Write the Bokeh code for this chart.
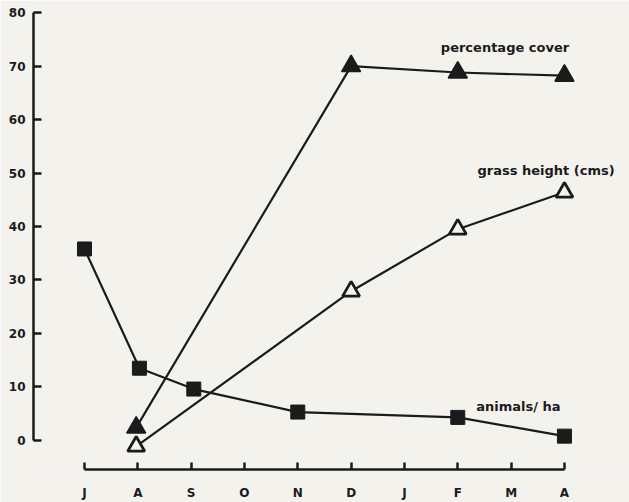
from bokeh.plotting import figure
from bokeh.models import Range1d, FixedTicker
from bokeh.core.properties import value
from bokeh.embed import file_html
from bokeh.resources import INLINE

# ---- data ----
month_labels = ["J", "A", "S", "O", "N", "D", "J", "F", "M", "A"]
month_pos = list(range(10))

animals_x = [0, 1.03, 2.05, 4, 7, 9]
animals = [35.8, 13.5, 9.6, 5.3, 4.3, 0.8]

cover_x = [0.97, 5, 7, 9]
cover = [2.4, 70.0, 68.8, 68.2]

grass_x = [0.97, 5, 7, 9]
grass = [-1.1, 27.9, 39.5, 46.4]

y_ticks = [0, 10, 20, 30, 40, 50, 60, 70, 80]

label_texts = ["percentage cover", "grass height (cms)", "animals/ ha"]

BG = "#f3f2ed"
INK = "#1b1b1b"
FONT = "DejaVu Sans"

p = figure(width=629, height=502, output_backend="svg", toolbar_location=None,
           x_range=Range1d(-0.956, 10.22), y_range=Range1d(-5.44, 82.26),
           min_border_left=33, min_border_right=0, min_border_top=0, min_border_bottom=0,
           background_fill_color=BG, border_fill_color=BG, outline_line_color=None)
p.grid.visible = False

# y axis
ya = p.yaxis[0]
ya.ticker = FixedTicker(ticks=y_ticks)
ya.bounds = (0, 80)
ya.axis_line_width = 2.5
ya.axis_line_color = INK
ya.major_tick_in = 8
ya.major_tick_out = 0
ya.major_tick_line_width = 2.5
ya.major_tick_line_color = INK
ya.minor_tick_line_color = None
ya.major_label_standoff = 8
ya.major_label_text_font = FONT
ya.major_label_text_font_style = "bold"
ya.major_label_text_font_size = "12px"
ya.major_label_text_color = INK

# x axis
xa = p.xaxis[0]
xa.ticker = FixedTicker(ticks=month_pos)
xa.major_label_overrides = {i: m for i, m in zip(month_pos, month_labels)}
xa.bounds = (0, 9)
xa.axis_line_width = 2.5
xa.axis_line_color = INK
xa.major_tick_in = 7
xa.major_tick_out = 0
xa.major_tick_line_width = 2.5
xa.major_tick_line_color = INK
xa.minor_tick_line_color = None
xa.major_label_standoff = 16
xa.major_label_text_font = FONT
xa.major_label_text_font_style = "bold"
xa.major_label_text_font_size = "12px"
xa.major_label_text_color = INK

# lines
p.line(animals_x, animals, line_color=INK, line_width=2.2)
p.line(cover_x, cover, line_color=INK, line_width=2.2)
p.line(grass_x, grass, line_color=INK, line_width=2.2)

# markers
p.scatter(animals_x, animals, marker="square", size=14, fill_color=INK,
          line_color=INK, line_width=1)
p.scatter(cover_x, cover, marker="triangle", size=19, fill_color=INK,
          line_color=INK, line_width=1.5)
p.scatter(grass_x, grass, marker="triangle", size=17, fill_color=BG,
          line_color=INK, line_width=2.8)

# annotations (centred on the reference label centres)
lab_x = [7.885, 8.655, 8.137]
lab_y = [73.45, 50.4, 6.37]
p.text(lab_x, lab_y, text=label_texts, text_font=value(FONT),
       text_font_style="bold", text_font_size="13px", text_color=INK,
       text_align="center", text_baseline="middle")

open("out.html", "w").write(file_html(p, INLINE))
